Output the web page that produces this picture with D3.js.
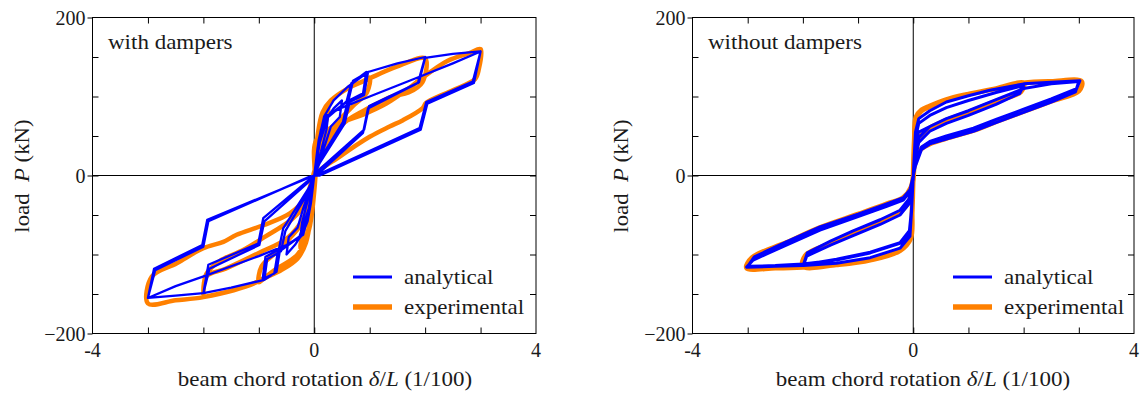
<!DOCTYPE html>
<html>
<head>
<meta charset="utf-8">
<script src="https://cdn.jsdelivr.net/npm/d3@7"></script>
<style>
  html, body { margin: 0; padding: 0; background: #fff; }
  svg { display: block; }
  text { font-family: "Liberation Serif", "Times New Roman", serif; fill: #1a1a1a; }
</style>
</head>
<body>
<svg id="chart" width="1142" height="398"></svg>
<script>
// beam chord rotation (1/100), load (kN)

const xTicks = [-3, -2, -1, 0, 1, 2, 3];
const yTicks = [-150, -100, -50, 0, 50, 100, 150];
const xTickLabels = [-4, 0, 4];
const yTickLabels = [-200, 0, 200];
const panelTitles = ["with dampers", "without dampers"];
const legendLabels = ["analytical", "experimental"];

// with dampers, analytical
const analyticalWith = [
  [0,0],[0.06,35],[0.12,58],[0.2,70],[0.25,75],[0.22,58],[0.12,30],[0,0],
  [-0.06,-35],[-0.12,-58],[-0.2,-72],[-0.25,-78],[-0.22,-60],[-0.12,-32],[0,0],
  [0.08,42],[0.18,68],[0.35,85],[0.5,95],[0.46,74],[0.3,62],[0.2,40],[0,0],
  [-0.08,-42],[-0.18,-70],[-0.35,-88],[-0.5,-100],[-0.46,-78],[-0.3,-66],[-0.2,-42],[0,0],
  [0.1,45],[0.22,74],[0.58,93],[0.67,117],[0.94,131],[0.88,104],[0.6,94],[0.52,68],[0.1,20],[0,0],
  [-0.1,-45],[-0.24,-76],[-0.62,-95],[-0.68,-122],[-0.9,-132],[-0.85,-106],[-0.6,-96],[-0.52,-70],[-0.1,-20],[0,0],
  [0.1,42],[0.25,74],[0.62,96],[0.7,120],[0.97,131],[0.9,102],[0.64,93],[0.55,66],[0.1,16],[0,0],
  [-0.1,-42],[-0.27,-78],[-0.66,-98],[-0.72,-124],[-0.93,-131],[-0.88,-103],[-0.64,-94],[-0.56,-67],[-0.1,-16],[0,0],
  [0.08,45],[0.18,75],[0.35,95],[0.6,112],[0.97,131],[1.5,142],[2,150],
  [1.87,117],[0.97,85],[0.88,54],[0.1,4],[0,0],[-0.1,-6],[-0.92,-54],[-1.01,-86],[-1.91,-113],[-2,-149],
  [-1.89,-118],[-0.99,-88],[-0.9,-58],[-0.1,-8],[0,0],[0.1,8],[0.9,58],[0.99,88],[1.89,118],[2,149],
  [2.5,154],[3,157],[2.86,119],[2.02,93],[1.9,60],[0.1,2],[0,0],[-0.1,-2],[-1.91,-58],[-2,-90],[-2.87,-120],[-3,-155],
  [-2.5,-140],[-1.97,-127],[-1,-102],[-0.5,-88],[-0.2,-75],[-0.08,-40],[0,0],
  [0.08,40],[0.2,75],[0.5,86],[1,100],[1.9,125],[2.5,142],[3,157],
  [2.88,117],[2.04,91],[1.92,58],[0.1,0],[0,0],[-1.93,-56],[-2.02,-88],[-2.89,-118],[-3,-155],
  [-2.5,-152],[-2,-149],[-1.5,-142],[-0.9,-132]
];

// with dampers, experimental
const experimentalWith = [
  [0,0],[0.05,40],[0.12,70],[0.2,82],[0.25,86],[0.2,65],[0.1,35],[0,0],
  [-0.05,-40],[-0.12,-72],[-0.2,-86],[-0.25,-92],[-0.2,-70],[-0.1,-38],[0,0],
  [0.06,50],[0.15,80],[0.3,95],[0.6,110],[0.9,120],[1.0,124],[0.95,105],[0.7,88],[0.45,70],[0.2,48],[0,0],
  [-0.06,-50],[-0.15,-85],[-0.3,-105],[-0.6,-120],[-0.9,-130],[-1.0,-135],[-0.95,-115],[-0.7,-98],[-0.45,-80],[-0.2,-58],[0,-10],
  [0.06,45],[0.15,78],[0.3,95],[0.6,110],[1,123],[1.5,138],[2,148],
  [1.95,118],[1.7,105],[1.4,100],[1.0,86],[0.6,70],[0.3,50],[0,5],
  [-0.1,-30],[-0.4,-55],[-0.9,-78],[-1.3,-95],[-1.7,-108],[-1.95,-125],[-2,-152],
  [-1.95,-128],[-1.6,-118],[-1.0,-98],[-0.5,-80],[-0.2,-55],[0,-10],
  [0.04,45],[0.46,66],[0.88,77],[1.3,91],[1.66,108],[1.9,121],[2.4,145],[2.8,155],[3,160],
  [2.97,135],[2.9,122],[2.5,108],[2.02,92],[1.95,85],[1.6,70],[1.36,62],[1.0,49],[0.46,24],[0,0],
  [-0.14,-27],[-0.44,-48],[-0.92,-63],[-1.4,-75],[-1.64,-84],[-2.0,-92],[-2.48,-111],[-2.93,-128],[-3,-162],
  [-2.5,-158],[-2,-154],[-1.04,-135],[-0.68,-118],[-0.3,-100],[-0.1,-70],[0,-20],[0.05,40]
];

// without dampers, analytical
const analyticalWithout = [
  [0,0],[0.04,55],[0.1,72],[0.3,82],[0.6,93],[1,101],[1.39,108],[2,116],
  [1.94,108],[1.5,96],[1,82],[0.6,72],[0.3,62],[0.1,48],[0.03,20],[0,0],
  [-0.03,-45],[-0.06,-77],[-0.24,-92],[-0.78,-104],[-1.39,-111],[-1.99,-114],
  [-1.93,-102],[-1.5,-88],[-1.09,-76],[-0.6,-62],[-0.24,-50],[-0.08,-36],[0,-5],
  [0.04,48],[0.1,66],[0.3,76],[0.6,86],[1,95],[1.5,105],[2,114],
  [1.93,104],[1.5,90],[1,76],[0.6,66],[0.3,56],[0.1,42],[0.03,18],[0,0],
  [-0.03,-42],[-0.07,-70],[-0.24,-85],[-0.78,-97],[-1.39,-106],[-1.99,-113],
  [-1.92,-98],[-1.5,-83],[-1.09,-70],[-0.6,-56],[-0.24,-44],[-0.08,-30],[0,-4],
  [0.04,55],[0.1,72],[0.3,82],[0.6,93],[1,101],[1.39,108],[2,116],[2.5,118],[3.02,120],
  [2.96,110],[2.5,97],[2,84],[1.5,71],[1.09,60],[0.6,50],[0.3,43],[0.15,36],[0.04,15],[0,0],
  [-0.03,-45],[-0.06,-77],[-0.24,-92],[-0.78,-104],[-1.39,-111],[-2,-114],[-2.5,-115],[-3.02,-116],
  [-2.9,-107],[-2.3,-88],[-1.69,-69],[-1.0,-52],[-0.48,-39],[-0.18,-31],[-0.06,-20],[0,0],
  [0.04,45],[0.1,55],[0.3,62],[0.6,72],[1,82],[1.5,96],[2,110],[2.5,116],[3,119],
  [2.94,106],[2.5,93],[2,80],[1.5,67],[1.09,56],[0.6,46],[0.3,40],[0.15,33],[0.04,12],[0,0],
  [-0.03,-40],[-0.06,-72],[-0.24,-86],[-0.78,-98],[-1.39,-107],[-2,-112],[-2.5,-114],[-3,-115],
  [-2.88,-103],[-2.3,-84],[-1.69,-65],[-1.0,-49],[-0.48,-36],[-0.18,-28],[-0.06,-18],[0,0]
];

// without dampers, experimental
const experimentalWithout = [
  [0,0],[0.02,45],[0.05,72],[0.15,82],[0.3,87],[0.6,96],[1,103],[1.5,110],[2,117],
  [1.95,106],[1.5,94],[1,80],[0.6,70],[0.3,60],[0.1,46],[0.02,20],[0,0],
  [-0.02,-45],[-0.05,-80],[-0.24,-95],[-0.78,-107],[-1.39,-113],[-2,-115],
  [-1.95,-101],[-1.5,-86],[-1.09,-73],[-0.6,-58],[-0.24,-46],[-0.06,-30],[0,-5],
  [0.02,45],[0.05,74],[0.15,83],[0.3,88],[0.6,96],[1,103],[1.5,110],[2,117],[2.5,119],[3.05,119],
  [3.0,107],[2.5,94],[2,81],[1.5,68],[1.09,57],[0.6,47],[0.3,40],[0.12,32],[0.02,12],[0,0],
  [-0.02,-45],[-0.05,-80],[-0.24,-95],[-0.78,-107],[-1.39,-113],[-2,-116],[-2.5,-117],[-3.02,-117],
  [-2.92,-104],[-2.3,-85],[-1.69,-66],[-1.0,-49],[-0.48,-36],[-0.18,-28],[-0.04,-15],[0,0]
];

const blue = "#0000ff", orange = "#ff8000";
const svg = d3.select("#chart");

const panels = [
  { left: 92.5, right: 536, title: panelTitles[0], exp: experimentalWith, ana: analyticalWith,
    titleX: 108, xTitleX: 325, yTitleX: 29, legendX: 353, blueW: 2.3, orangeW: 4.5 },
  { left: 692.5, right: 1134, title: panelTitles[1], exp: experimentalWithout, ana: analyticalWithout,
    titleX: 708, xTitleX: 923, yTitleX: 628, legendX: 953, blueW: 3, orangeW: 5 }
];
const plotTop = 17.5, plotBottom = 333.5;

panels.forEach(p => {
  const x = d3.scaleLinear().domain([-4, 4]).range([p.left, p.right]);
  const y = d3.scaleLinear().domain([-200, 200]).range([plotBottom, plotTop]);
  const g = svg.append("g");

  // zero lines
  g.append("line").attr("x1", x(-4)).attr("x2", x(4)).attr("y1", y(0)).attr("y2", y(0))
    .attr("stroke", "#000").attr("stroke-width", 1);
  g.append("line").attr("x1", x(0)).attr("x2", x(0)).attr("y1", y(-200)).attr("y2", y(200))
    .attr("stroke", "#000").attr("stroke-width", 1);

  const line = d3.line().x(d => x(d[0])).y(d => y(d[1]));
  g.append("path").datum(p.exp)
    .attr("d", line.curve(d3.curveCatmullRom.alpha(0.5)))
    .attr("fill", "none").attr("stroke", orange).attr("stroke-width", p.orangeW)
    .attr("stroke-linejoin", "round").attr("stroke-linecap", "round");
  g.append("path").datum(p.ana)
    .attr("d", line.curve(d3.curveLinear))
    .attr("fill", "none").attr("stroke", blue).attr("stroke-width", p.blueW)
    .attr("stroke-linejoin", "round");

  // frame with inward ticks on every side
  g.append("rect").attr("x", x(-4)).attr("y", y(200))
    .attr("width", x(4) - x(-4)).attr("height", y(-200) - y(200))
    .attr("fill", "none").attr("stroke", "#000").attr("stroke-width", 1);

  const axB = d3.axisBottom(x).tickValues(xTicks).tickSize(-6).tickFormat("");
  const axT = d3.axisTop(x).tickValues(xTicks).tickSize(-6).tickFormat("");
  const axL = d3.axisLeft(y).tickValues(yTicks).tickSize(-6).tickFormat("");
  const axR = d3.axisRight(y).tickValues(yTicks).tickSize(-6).tickFormat("");
  g.append("g").attr("transform", `translate(0,${plotBottom})`).call(axB);
  g.append("g").attr("transform", `translate(0,${plotTop})`).call(axT);
  g.append("g").attr("transform", `translate(${p.left},0)`).call(axL);
  g.append("g").attr("transform", `translate(${p.right},0)`).call(axR);
  g.selectAll(".domain").remove();
  g.selectAll(".tick line").attr("stroke", "#000");

  // labelled ticks on the left stick out
  const axLab = d3.axisLeft(y).tickValues(yTickLabels).tickSize(5).tickPadding(2);
  const yl = g.append("g").attr("transform", `translate(${p.left},0)`).call(axLab);
  yl.select(".domain").remove();
  yl.selectAll("line").attr("stroke", "#000");
  yl.selectAll("text").attr("font-size", 20).attr("dy", "0.33em")
    .style("font-family", "'Liberation Serif', serif").attr("fill", "#1a1a1a");

  g.selectAll(null).data(xTickLabels).join("text")
    .attr("x", d => x(d)).attr("y", 357).attr("text-anchor", "middle")
    .attr("font-size", 20).text(d => d);

  // titles
  g.append("text").attr("transform", `translate(${p.titleX},49) scale(1.15,1)`)
    .attr("font-size", 20).text(p.title);

  const xt = g.append("text").attr("transform", `translate(${p.xTitleX},386) scale(1.15,1)`)
    .attr("text-anchor", "middle").attr("font-size", 20);
  xt.append("tspan").text("beam chord rotation ");
  xt.append("tspan").attr("font-style", "italic").text("\u03b4");
  xt.append("tspan").text("/");
  xt.append("tspan").attr("font-style", "italic").text("L");
  xt.append("tspan").text(" (1/100)");

  const yt = g.append("text").attr("transform", `translate(${p.yTitleX},176) rotate(-90) scale(1.14,1)`)
    .attr("text-anchor", "middle").attr("font-size", 20);
  yt.append("tspan").text("load\u00a0 ");
  yt.append("tspan").attr("font-style", "italic").text("P");
  yt.append("tspan").text(" (kN)");

  // legend
  const lg = [{ c: blue, w: 3, yy: 277, ty: 283.5 }, { c: orange, w: 5.5, yy: 307, ty: 314 }];
  lg.forEach((l, i) => {
    g.append("line").attr("x1", p.legendX).attr("x2", p.legendX + 39)
      .attr("y1", l.yy).attr("y2", l.yy).attr("stroke", l.c).attr("stroke-width", l.w);
    g.append("text").attr("transform", `translate(${p.legendX + 51},${l.ty}) scale(1.15,1)`)
      .attr("font-size", 20).text(legendLabels[i]);
  });
});
</script>
</body>
</html>
